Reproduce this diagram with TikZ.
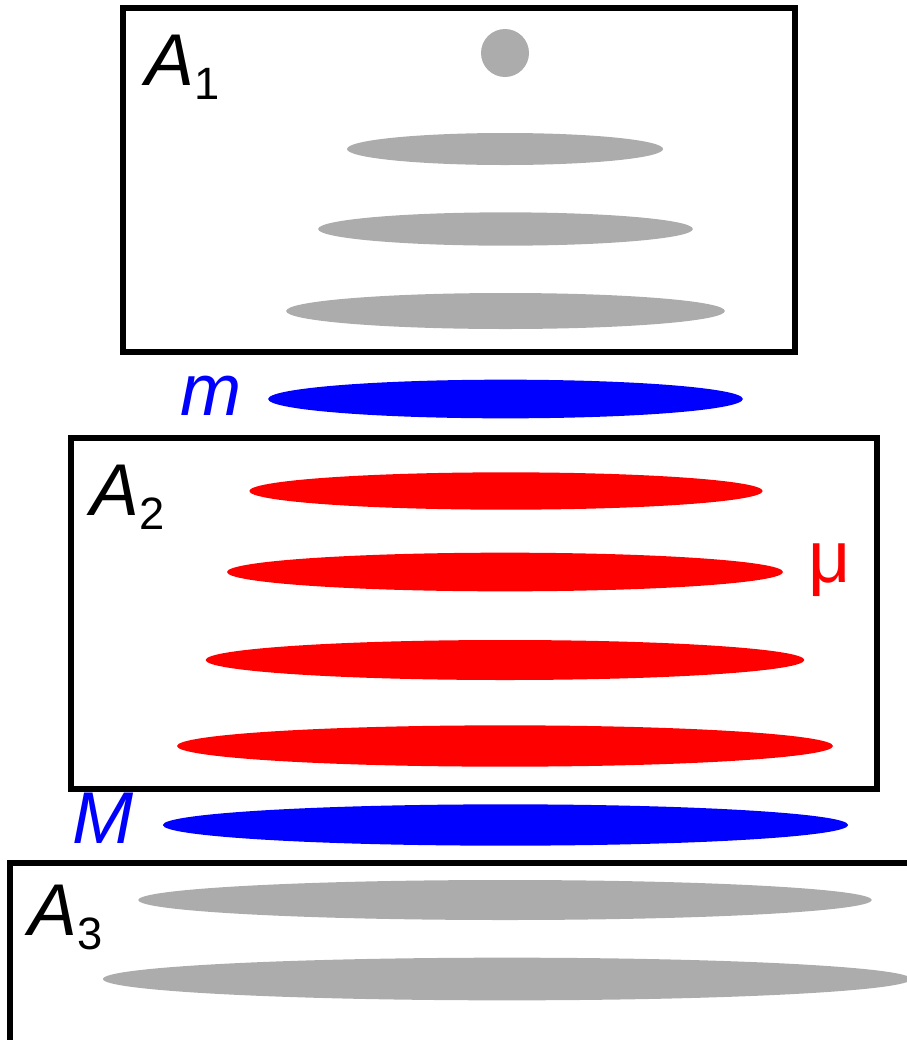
\documentclass[tikz,border=0pt]{standalone}
\usepackage{fontspec}
\setmainfont{Liberation Sans}
\usetikzlibrary{shapes.geometric}
\tikzset{
  box/.style={draw=black, line width=4pt},
  blob/.style={ellipse, inner sep=0pt, draw=none},
  grayblob/.style={blob, fill=gray!65},
  redblob/.style={blob, fill=red},
  blueblob/.style={blob, fill=blue},
  lbl/.style={anchor=base west, inner sep=0pt, font=\fontsize{55}{60}\selectfont\itshape},
}
\newcommand{\Asub}[1]{A\raisebox{-11pt}{\fontsize{34}{38}\selectfont\upshape #1}}
\begin{document}
\begin{tikzpicture}[x=0.75pt,y=-0.75pt]
\useasboundingbox (0,0) rectangle (907,1040);
\draw[box] (123,8) rectangle (795,352);
\draw[box] (71,438) rectangle (877,789);
\draw[box] (10,1060) -- (10,863) -- (930,863);
% A1
\node[circle, fill=gray!65, inner sep=0pt, minimum size=36pt] (dot) at (505,53) {};
\node[grayblob, minimum width=237pt, minimum height=24pt] (g1) at (505,149) {};
\node[grayblob, minimum width=281pt, minimum height=25pt] (g2) at (505.5,229) {};
\node[grayblob, minimum width=329pt, minimum height=27pt] (g3) at (505.5,311) {};
% m
\node[blueblob, minimum width=356pt, minimum height=29pt] (bm) at (505.5,399) {};
% A2
\node[redblob, minimum width=385pt, minimum height=28pt] (r1) at (506,491) {};
\node[redblob, minimum width=417pt, minimum height=29pt] (r2) at (505,572) {};
\node[redblob, minimum width=449pt, minimum height=30pt] (r3) at (505,660) {};
\node[redblob, minimum width=492pt, minimum height=31pt] (r4) at (505,746) {};
% M
\node[blueblob, minimum width=514pt, minimum height=31pt] (bM) at (505.5,825) {};
% A3
\node[grayblob, minimum width=550pt, minimum height=30pt] (g4) at (505,900) {};
\node[grayblob, minimum width=606pt, minimum height=32pt] (g5) at (507,979) {};
% labels
\node[lbl] (lA1) at (145,85) {\Asub{1}};
\node[lbl] (lA2) at (90,515) {\Asub{2}};
\node[lbl] (lA3) at (28,935) {\Asub{3}};
\node[lbl, text=blue] (lm) at (180,415) {m};
\node[lbl, text=blue] (lM) at (72,843) {M};
\node[lbl, text=red, font=\fontsize{55}{60}\selectfont\upshape] (lmu) at (808,582) {μ};
\end{tikzpicture}
\end{document}
